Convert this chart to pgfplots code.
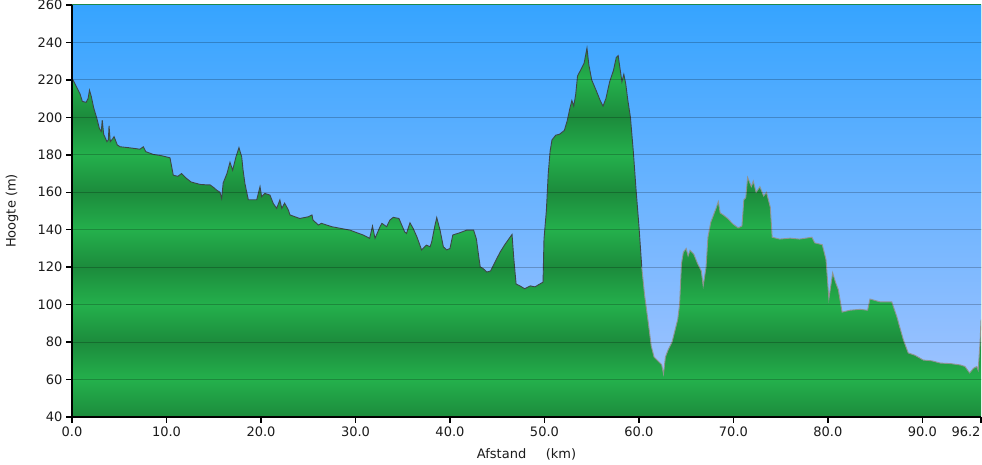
\documentclass[border=0pt]{standalone}
\usepackage{pgfplots}
\pgfplotsset{compat=1.18}
\usepackage{pgfplotstable}
\usepackage{fontspec}
\setmainfont{DejaVu Sans}
\definecolor{skytop}{HTML}{36A4FF}
\definecolor{skybot}{HTML}{9CC2FF}
\definecolor{gdark}{HTML}{1C8B3C}
\definecolor{glight}{HTML}{24B04C}
\definecolor{txt}{HTML}{1A1A1A}
\definecolor{linedark}{HTML}{3C4745}
\definecolor{linelight}{HTML}{8E9490}
\pgfplotstableread{
km m
0.0 219
0.1 220
0.4 217
0.85 212.5
1.1 208.5
1.5 208
1.7 210
1.85 214.5
2.05 211
2.3 205
2.6 200
2.9 194
3.1 192.5
3.2 198.5
3.35 191
3.7 187
3.85 188
3.92 195.5
4.05 187
4.3 188.5
4.45 189.7
4.8 185.2
5.1 184.3
6.0 183.8
7.2 183
7.55 184.3
7.8 181.7
8.6 180.2
9.5 179.5
10.37 178.4
10.72 169.1
11.2 168.5
11.6 170
12.14 167.3
12.6 165.5
13.55 164.2
14.4 163.9
14.6 164
15.0 162.5
15.3 161.2
15.66 160
15.84 156.7
16.0 165
16.4 170
16.72 176
17.0 171.8
17.36 179
17.67 183.8
17.96 178.9
18.1 172
18.3 164.7
18.66 156
19.55 156
19.9 163
20.07 157.6
20.4 159.4
20.95 158.5
21.3 154
21.66 151.4
22.0 155.9
22.2 151.4
22.5 154.2
22.9 150.5
23.07 147.9
24.1 146
25.0 146.9
25.4 147.9
25.5 145.2
26.07 142.5
26.4 143.4
27.5 141.6
29.4 139.8
30.8 137.2
31.5 135.4
31.8 141.9
32.07 135.4
32.6 141.6
32.8 143.4
33.3 141.6
33.65 145.2
34.0 146.6
34.6 146
35.2 138.9
35.4 138
35.77 143.7
36.1 140.7
36.5 136.2
37.0 129.2
37.5 131.8
37.9 130.9
38.07 133.6
38.4 142
38.6 146.5
38.95 139.8
39.3 130.9
39.65 129.2
40.0 130
40.3 137.2
41.06 138.4
41.77 139.8
42.5 139.8
42.8 135
43.0 127.4
43.2 120.2
43.5 119.3
43.9 117.4
44.3 118
44.6 121
45.3 128
45.8 132
46.57 137.5
46.75 125
47.0 111
47.4 110
47.9 108.5
48.5 110
49.0 109.5
49.5 111
49.85 112
49.95 135
50.2 150
50.4 170
50.6 182
50.8 188
51.2 190.5
51.6 191
52.1 193
52.4 198
52.7 205
52.9 209
53.1 206
53.3 212
53.5 222
53.9 226
54.2 229
54.5 237
54.7 228
55.0 220
55.5 214
55.9 209
56.2 206
56.5 210
56.9 219
57.3 225
57.6 232
57.8 233
58.0 226
58.2 219
58.4 223
58.6 218
58.8 210
59.1 200
59.4 182
59.7 161
60.0 142
60.3 120
60.6 105
61.0 90
61.3 78
61.6 72
62.0 70
62.4 68
62.6 63
62.8 72
63.1 76
63.5 80
63.8 86
64.1 92
64.3 100
64.5 122
64.7 128
65.0 130
65.2 126
65.4 129
65.8 127
66.2 122
66.6 118
66.8 110
67.1 120
67.3 136
67.6 144
67.9 148
68.2 152
68.4 155
68.6 149
68.9 148
69.4 146
69.96 143
70.5 141
70.9 142
71.1 156
71.3 157
71.5 168
71.9 163
72.1 166
72.4 160
72.8 163
73.2 158
73.5 160
73.9 152
74.1 136
74.9 135
76.0 135.5
77.0 135
78.3 136
78.6 133
79.4 132
79.8 124
80.1 103
80.5 117
80.8 112
81.1 108
81.5 96
82.3 97
83.4 97.5
84.2 97
84.45 103
85.5 101.5
86.75 101.5
87.3 93.5
87.6 88
88.0 81
88.5 74.2
89.2 73
90.1 70.4
91.0 70
91.9 68.8
93.0 68.5
94.0 67.8
94.5 67
95.0 63.5
95.4 66
95.74 66.9
95.9 65
96.1 80
96.2 92
}\profile
\begin{document}
\begin{tikzpicture}
\begin{axis}[
  at={(0,0)}, anchor=south west,
  scale only axis, width=909pt, height=412pt,
  xmin=0, xmax=96.2, ymin=40, ymax=260,
  axis x line*=bottom, axis y line*=left,
  axis line style={line width=2pt, black},
  xtick={0,10,20,30,40,50,60,70,80,90},
  xticklabels={0.0,10.0,20.0,30.0,40.0,50.0,60.0,70.0,80.0,90.0},
  extra x ticks={96.2}, extra x tick labels={96.2},
  extra x tick style={xticklabel style={xshift=-15pt}},
  ytick={40,60,...,260},
  ymajorgrids,
  grid style={black, opacity=0.22, line width=1pt},
  tick align=outside, major tick length=6pt,
  tick style={black, line width=1.5pt},
  /pgf/number format/assume math mode=true,
  ticklabel style={font=\fontsize{13}{15}\selectfont, text=txt},
  xlabel={Afstand\hspace{1.5em}(km)}, ylabel={Hoogte (m)},
  label style={font=\fontsize{13}{15}\selectfont, text=txt},
  xlabel style={at={(axis description cs:0.5,-0.092)}, anchor=center},
  ylabel style={at={(axis description cs:-0.066,0.5)}, anchor=center},
  axis on top,
]
% green bands
\addplot[draw=none, bottom color=gdark, top color=glight] coordinates {(0,40) (96.2,40) (96.2,60) (0,60)} -- cycle;
\addplot[draw=none, bottom color=glight, top color=gdark] coordinates {(0,60) (96.2,60) (96.2,80) (0,80)} -- cycle;
\addplot[draw=none, bottom color=gdark, top color=glight] coordinates {(0,80) (96.2,80) (96.2,100) (0,100)} -- cycle;
\addplot[draw=none, bottom color=glight, top color=gdark] coordinates {(0,100) (96.2,100) (96.2,120) (0,120)} -- cycle;
\addplot[draw=none, bottom color=gdark, top color=glight] coordinates {(0,120) (96.2,120) (96.2,140) (0,140)} -- cycle;
\addplot[draw=none, bottom color=glight, top color=gdark] coordinates {(0,140) (96.2,140) (96.2,160) (0,160)} -- cycle;
\addplot[draw=none, bottom color=gdark, top color=glight] coordinates {(0,160) (96.2,160) (96.2,180) (0,180)} -- cycle;
\addplot[draw=none, bottom color=glight, top color=gdark] coordinates {(0,180) (96.2,180) (96.2,200) (0,200)} -- cycle;
\addplot[draw=none, bottom color=gdark, top color=glight] coordinates {(0,200) (96.2,200) (96.2,220) (0,220)} -- cycle;
\addplot[draw=none, bottom color=glight, top color=gdark] coordinates {(0,220) (96.2,220) (96.2,240) (0,240)} -- cycle;
\addplot[draw=none, bottom color=gdark, top color=glight] coordinates {(0,240) (96.2,240) (96.2,260) (0,260)} -- cycle;
% sky above the profile
\addplot[draw=none, top color=skytop, bottom color=skybot] table[x=km, y=m] {\profile} -- (axis cs:96.2,260) -- (axis cs:0,260) -- cycle;
% profile line
\addplot[linedark, line width=0.9pt, restrict x to domain=0:60.3] table[x=km, y=m] {\profile};
\addplot[linelight, line width=0.9pt, restrict x to domain=60.3:96.2] table[x=km, y=m] {\profile};
\end{axis}
\pgfresetboundingbox
\path[use as bounding box] (-72pt,-48pt) rectangle (910pt,417pt);
\end{tikzpicture}
\end{document}
